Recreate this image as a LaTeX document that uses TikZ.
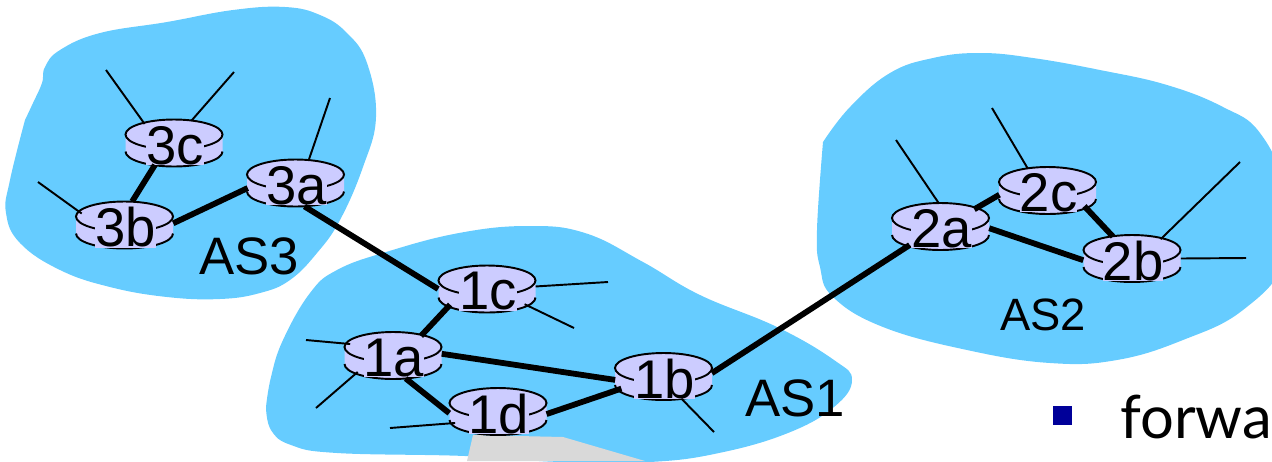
\documentclass[tikz,border=0pt]{standalone}
\usepackage{fontspec}
\setmainfont{Liberation Sans}
\newfontfamily\bulletfont{Lato}
\usepackage{xcolor}
\usepackage{tikz}
\usetikzlibrary{shapes.geometric}
\definecolor{ASBlue}{HTML}{66CCFF}
\definecolor{RouterBlue}{HTML}{CCCCFF}
\definecolor{BulletBlue}{HTML}{000099}
\definecolor{SlabGray}{HTML}{D9D9D9}
\tikzset{
  router/.style={ellipse, inner sep=0pt, minimum width=1.94cm, minimum height=0.94cm},
  routerlabel/.style={font=\fontsize{31}{31}\selectfont, inner sep=0pt, fill=RouterBlue, yshift=-0.05cm, xshift=0.02cm},
  link/.style={line width=3.3pt},
  stub/.style={line width=1.1pt},
  aslabel/.style={font=\fontsize{30}{30}\selectfont, inner sep=0pt},
}
\newcommand{\router}[3]{%
\begin{scope}[shift={(#2)}]
\fill[RouterBlue] (-48.5,-8.5) -- (-48.5,8.5) arc[start angle=180, end angle=0, x radius=48.5, y radius=15] -- (48.5,-8.5) arc[start angle=0, end angle=-180, x radius=48.5, y radius=15] -- cycle;
\draw[line width=1.1pt] (-48.5,8.5) arc[start angle=180, end angle=0, x radius=48.5, y radius=15];
\draw[line width=1.1pt] (0,-8.5) ellipse [x radius=48.5, y radius=15];
\end{scope}
\node[router, label={[routerlabel]center:#3}] (#1) at (#2) {};
}
\begin{document}
\begin{tikzpicture}[x=0.02cm, y=-0.02cm]
\useasboundingbox (0,0) rectangle (1272,461);
%
\fill[ASBlue] plot[smooth, tension=0.7] coordinates {(25,120) (33,103) (42,83) (45,67) (60,50) (100,33) (167,22) (233,10) (285,7) (320,15) (347,33) (367,63) (376,117) (363,167) (340,220) (317,253) (290,280) (260,293) (220,299) (167,297) (110,287) (60,270) (20,243) (6,213) (10,180) (25,120)} -- cycle;
\fill[ASBlue] plot[smooth, tension=0.7] coordinates {(266,407) (271,377) (283,340) (310,293) (337,270) (386,252) (459,233) (528,226) (585,233) (643,262) (700,295) (777,327) (834,360) (852,380) (834,407) (788,433) (719,453) (650,462) (560,462) (465,456) (337,453) (291,445) (271,430) (266,407)} -- cycle;
\fill[ASBlue] plot[smooth, tension=0.7] coordinates {(823,142) (850,107) (890,73) (933,58) (980,53) (1033,58) (1100,70) (1167,85) (1223,107) (1260,133) (1285,190) (1285,260) (1243,310) (1183,340) (1117,360) (1050,363) (967,350) (883,327) (833,297) (820,267) (817,230) (823,142)} -- cycle;
\fill[SlabGray] (467,461) -- (473,435) -- (563,437) -- (645,461) -- cycle;
%
\router{r3c}{174,143}{3c}
\router{r3a}{295.5,183}{3a}
\router{r3b}{124.5,225}{3b}
\router{r1c}{487,289}{1c}
\router{r1a}{393,355.5}{1a}
\router{r1d}{498,411.5}{1d}
\router{r1b}{663.5,376.5}{1b}
\router{r2a}{940.5,226.5}{2a}
\router{r2c}{1047.5,190.5}{2c}
\router{r2b}{1132,258.5}{2b}
%
\draw[link] (r3c.229) -- (r3b.72);
\draw[link] (r3b.2) -- (r3a.186);
\draw[link] (r3a.291) -- (r1c.180);
\draw[link] (r1c.203) -- (r1a.35);
\draw[link] (r1a.2) -- (r1b.184);
\draw[link] (r1a.299) -- (r1d.182);
\draw[link] (r1d.357) -- (r1b.196);
\draw[link] (r1b.4) -- (r2a.211);
\draw[link] (r2a.27) -- (r2c.185);
\draw[link] (r2a.358) -- (r2b.182);
\draw[link] (r2c.337) -- (r2b.131);
%
\coordinate (e3c) at (106,70); \draw[stub] (r3c.147) -- (e3c);
\coordinate (f3c) at (234,72); \draw[stub] (r3c.52) -- (f3c);
\coordinate (e3a) at (330,98); \draw[stub] (r3a.60) -- (e3a);
\coordinate (e3b) at (38,182); \draw[stub] (r3b.165) -- (e3b);
\coordinate (e1c) at (608,282); \draw[stub] (r1c.3) -- (e1c);
\coordinate (f1c) at (574,328); \draw[stub] (r1c.338) -- (f1c);
\coordinate (e1a) at (306,340); \draw[stub] (r1a.165) -- (e1a);
\coordinate (f1a) at (316,408); \draw[stub] (r1a.205) -- (f1a);
\coordinate (e1d) at (390,428); \draw[stub] (r1d.195) -- (e1d);
\coordinate (e1b) at (714,432); \draw[stub] (r1b.309) -- (e1b);
\coordinate (e2a) at (896,140); \draw[stub] (r2a.95) -- (e2a);
\coordinate (e2c) at (992,108); \draw[stub] (r2c.132) -- (e2c);
\coordinate (e2b) at (1240,162); \draw[stub] (r2b.34) -- (e2b);
\coordinate (f2b) at (1246,258); \draw[stub] (r2b.0) -- (f2b);
%
\node[aslabel] (as3) at (249,256) {AS3};
\node[aslabel] (as1) at (795,398) {AS1};
\node[aslabel, font=\fontsize{25.8}{26}\selectfont] (as2) at (1043,315) {AS2};
%
\node[fill=BulletBlue, minimum size=0.38cm, inner sep=0pt] (bullet) at (1062.5,415.5) {};
\node[anchor=base west, inner sep=0pt, font=\bulletfont\fontsize{34}{34}\selectfont] (forwa) at (1120,438) {forwa};
\end{tikzpicture}
\end{document}
